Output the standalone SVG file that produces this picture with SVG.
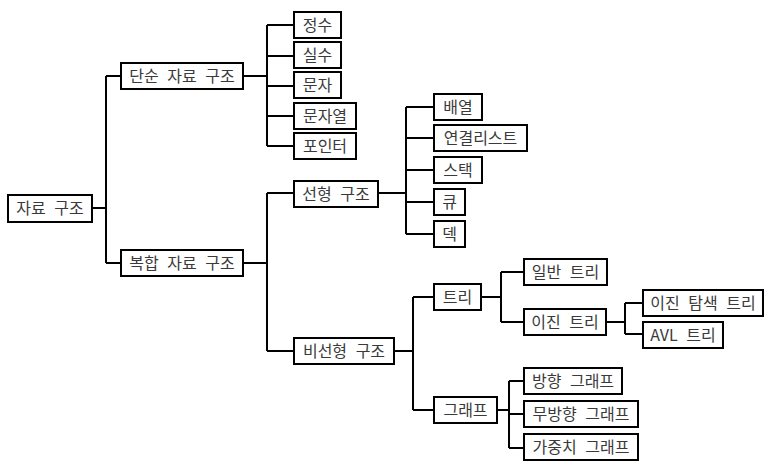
<svg xmlns="http://www.w3.org/2000/svg" width="773" height="468" viewBox="0 0 773 468">
<style>
rect{fill:#fff;stroke:#000;stroke-width:2}
text{font-family:"Noto Sans CJK KR","Noto Sans",sans-serif;font-size:16px;fill:#3a3a3a;text-anchor:middle;word-spacing:5px}
#connectors path{fill:none;stroke:#000;stroke-width:2}
</style>
<rect x="0" y="0" width="773" height="468" style="stroke:none"/>
<g id="connectors">
<path d="M92 208H106M106 76V263M106 76H120M106 263H120"/>
<path d="M243 76H267M267 25V146M267 25H293M267 56H293M267 86H293M267 116H293M267 146H293"/>
<path d="M243 263H267M267 193V351M267 193H293M267 351H293"/>
<path d="M378 193H406M406 107V234M406 107H433M406 138H433M406 170H433M406 202H433M406 234H433"/>
<path d="M394 351H413M413 297V410M413 297H433M413 410H433"/>
<path d="M481 297H501M501 272V322M501 272H523M501 322H523"/>
<path d="M606 322H625M625 303V334M625 303H642M625 334H642"/>
<path d="M497 410H509M509 381V448M509 381H523M509 414H523M509 448H523"/>
</g>
<g id="root"><rect x="8" y="195" width="84" height="27"/><text x="50" y="214">자료 구조</text></g>
<g id="simple"><rect x="121" y="63" width="122" height="26"/><text x="182" y="82">단순 자료 구조</text></g>
<g id="compound"><rect x="121" y="250" width="122" height="26"/><text x="182" y="269">복합 자료 구조</text></g>
<g id="int"><rect x="294" y="12" width="47" height="26"/><text x="317.5" y="31">정수</text></g>
<g id="real"><rect x="294" y="42" width="47" height="26"/><text x="317.5" y="61">실수</text></g>
<g id="char"><rect x="294" y="72" width="47" height="26"/><text x="317.5" y="91">문자</text></g>
<g id="string"><rect x="294" y="103" width="62" height="26"/><text x="325" y="122">문자열</text></g>
<g id="pointer"><rect x="294" y="133" width="62" height="26"/><text x="325" y="152">포인터</text></g>
<g id="linear"><rect x="294" y="181" width="84" height="26"/><text x="336" y="200">선형 구조</text></g>
<g id="nonlinear"><rect x="294" y="338" width="100" height="26"/><text x="344" y="357">비선형 구조</text></g>
<g id="array"><rect x="434" y="94" width="48" height="26"/><text x="458" y="113">배열</text></g>
<g id="linkedlist"><rect x="434" y="125" width="93" height="26"/><text x="480.5" y="144">연결리스트</text></g>
<g id="stack"><rect x="434" y="157" width="48" height="26"/><text x="458" y="176">스택</text></g>
<g id="queue"><rect x="434" y="189" width="31" height="26"/><text x="449.5" y="208">큐</text></g>
<g id="deque"><rect x="434" y="221" width="31" height="26"/><text x="449.5" y="240">덱</text></g>
<g id="tree"><rect x="434" y="284" width="47" height="26"/><text x="457.5" y="303">트리</text></g>
<g id="graph"><rect x="434" y="397" width="63" height="26"/><text x="465.5" y="416">그래프</text></g>
<g id="generaltree"><rect x="524" y="259" width="83" height="26"/><text x="565.5" y="278">일반 트리</text></g>
<g id="binarytree"><rect x="524" y="309" width="82" height="26"/><text x="565" y="328">이진 트리</text></g>
<g id="bst"><rect x="643" y="290" width="120" height="26"/><text x="703" y="309">이진 탐색 트리</text></g>
<g id="avl"><rect x="643" y="322" width="80" height="26"/><text x="683" y="341">AVL 트리</text></g>
<g id="directed"><rect x="524" y="368" width="98" height="26"/><text x="573" y="387">방향 그래프</text></g>
<g id="undirected"><rect x="524" y="401" width="114" height="26"/><text x="581" y="420">무방향 그래프</text></g>
<g id="weighted"><rect x="524" y="434" width="114" height="26"/><text x="581" y="453">가중치 그래프</text></g>
</svg>
